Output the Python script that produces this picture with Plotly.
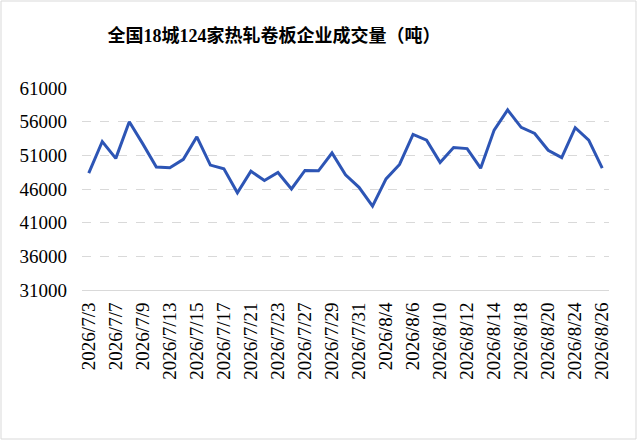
import plotly.graph_objects as go

# Fechas (días hábiles) y volumen de transacciones en toneladas
fechas = [
    "2026/7/3", "2026/7/6", "2026/7/7", "2026/7/8", "2026/7/9", "2026/7/10",
    "2026/7/13", "2026/7/14", "2026/7/15", "2026/7/16", "2026/7/17",
    "2026/7/20", "2026/7/21", "2026/7/22", "2026/7/23", "2026/7/24",
    "2026/7/27", "2026/7/28", "2026/7/29", "2026/7/30", "2026/7/31",
    "2026/8/3", "2026/8/4", "2026/8/5", "2026/8/6", "2026/8/7",
    "2026/8/10", "2026/8/11", "2026/8/12", "2026/8/13", "2026/8/14",
    "2026/8/17", "2026/8/18", "2026/8/19", "2026/8/20", "2026/8/21",
    "2026/8/24", "2026/8/25", "2026/8/26",
]
volumen = [
    48350, 53050, 50550, 56000, 52700, 49250,
    49150, 50400, 53750, 49550, 49000,
    45450, 48650, 47250, 48450, 46000,
    48750, 48700, 51350, 48100, 46250,
    43450, 47500, 49650, 54100, 53250,
    49950, 52150, 52000, 49100, 54750,
    57750, 55150, 54250, 51750, 50650,
    55100, 53250, 49100,
]
# Sólo se muestra una etiqueta de cada dos
etiquetas_x = fechas[::2]
ticks_y = [31000, 36000, 41000, 46000, 51000, 56000, 61000]

titulo = "全国18城124家热轧卷板企业成交量（吨）"
FUENTE = "Liberation Serif, Noto Sans CJK SC, serif"

fig = go.Figure()
fig.add_trace(go.Scatter(
    x=fechas,
    y=volumen,
    mode="lines",
    line=dict(color="#2D55B5", width=3),
    hoverinfo="x+y",
))

fig.update_layout(
    width=638,
    height=441,
    margin=dict(l=82, r=29, t=88, b=151),
    paper_bgcolor="white",
    plot_bgcolor="white",
    showlegend=False,
    font=dict(family=FUENTE, size=19, color="#000000"),
    title=dict(
        text="<b>" + titulo + "</b>",
        x=274 / 638, xanchor="center",
        y=1 - 36 / 441, yanchor="middle",
        font=dict(family=FUENTE, size=18, color="#000000"),
    ),
    xaxis=dict(
        type="category",
        range=[-0.5, len(fechas) - 0.5],
        tickmode="array",
        tickvals=etiquetas_x,
        ticktext=etiquetas_x,
        tickangle=-90,
        tickfont=dict(family=FUENTE, size=19),
        showgrid=False,
        showline=True,
        linecolor="#D9D9D9",
        linewidth=1,
        ticks="",
        ticklabelstandoff=4,
        fixedrange=True,
    ),
    yaxis=dict(
        range=[31000, 61000],
        tickmode="array",
        tickvals=ticks_y,
        ticktext=[str(v) for v in ticks_y],
        tickfont=dict(family=FUENTE, size=19),
        showgrid=True,
        gridcolor="#D9D9D9",
        griddash="dash",
        gridwidth=1,
        zeroline=False,
        showline=False,
        ticks="",
        ticklabelstandoff=14,
        fixedrange=True,
    ),
    shapes=[dict(
        type="rect", xref="paper", yref="paper",
        x0=(1 - 82) / 527, x1=(636 - 82) / 527,
        y0=(290 - 439) / 202, y1=(290 - 1) / 202,
        line=dict(color="#D9D9D9", width=1),
        fillcolor="rgba(0,0,0,0)",
        layer="below",
    )],
)

# Quitar el margen por defecto del <body> para que el gráfico empiece en (0, 0)
fig.write_html(
    "out.html",
    config={"displayModeBar": False},
    post_script="document.body.style.margin='0';document.body.style.overflow='hidden';",
)
